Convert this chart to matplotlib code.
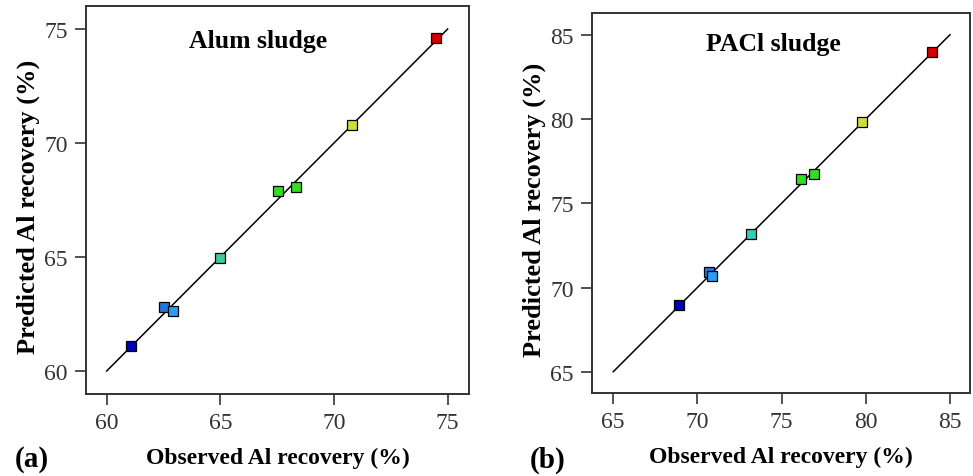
import matplotlib
matplotlib.use("Agg")
import matplotlib.pyplot as plt

# ---- data ----
alum_observed = [74.5, 70.8, 67.55, 68.35, 65.0, 62.52, 62.92, 61.05]
alum_predicted = [74.6, 70.77, 67.88, 68.06, 64.95, 62.82, 62.63, 61.1]
alum_colors = ["#d40000", "#cfdc3a", "#33dd22", "#33dd22", "#3cc8a0", "#2277e0", "#2f9af0", "#0000b8"]

pacl_observed = [83.95, 79.8, 76.15, 76.92, 73.18, 70.66, 70.86, 68.88]
pacl_predicted = [84.0, 79.8, 76.43, 76.73, 73.19, 70.93, 70.66, 68.94]
pacl_colors = ["#d40000", "#cfdc3a", "#33dd22", "#33dd22", "#30d0b8", "#2277e0", "#2f9af0", "#0000b8"]

alum_ticks = [60, 65, 70, 75]
pacl_ticks = [65, 70, 75, 80, 85]
alum_line = [60, 75]
pacl_line = [65, 85]

plt.rcParams['font.family'] = ['Liberation Serif', 'DejaVu Serif']

fig = plt.figure(figsize=(9.73, 4.77), dpi=100)
axL = fig.add_axes([86/973, 82/477, 383/973, 388/477])
axR = fig.add_axes([592/973, 83/477, 378/973, 380/477])

spine_col = "#333333"

def style(ax, ticks, xlim, ylim):
    ax.set_xlim(*xlim)
    ax.set_ylim(*ylim)
    ax.set_xticks(ticks)
    ax.set_yticks(ticks)
    ax.tick_params(direction='out', length=8, width=1.2, colors=spine_col,
                   labelsize=17, pad=5, top=False, right=False)
    for s in ax.spines.values():
        s.set_color(spine_col)
        s.set_linewidth(1.4)

def panel(ax, obs, pred, cols, line):
    ax.plot(line, line, color='black', lw=1.1, zorder=2)
    for x, y, c in zip(obs, pred, cols):
        ax.plot([x], [y], marker='s', ms=7.5, mfc=c, mec='black', mew=0.9,
                linestyle='none', zorder=3)

panel(axL, alum_observed, alum_predicted, alum_colors, alum_line)
panel(axR, pacl_observed, pacl_predicted, pacl_colors, pacl_line)

style(axL, alum_ticks, (59.09, 75.94), (58.99, 76.01))
style(axR, pacl_ticks, (63.74, 86.19), (63.74, 86.29))

axL.text(0.449, 0.91, "Alum sludge", transform=axL.transAxes, ha='center',
         va='center', fontsize=18.5, fontweight='bold')
axR.text(0.479, 0.921, "PACl sludge", transform=axR.transAxes, ha='center',
         va='center', fontsize=18.5, fontweight='bold')

for ax in (axL, axR):
    ax.set_xlabel("Observed Al recovery (%)", fontsize=17, fontweight='bold', labelpad=10)
    ax.set_ylabel("Predicted Al recovery (%)", fontsize=19, fontweight='bold', labelpad=3)
    ax.yaxis.label.set_y(0.485)

fig.text(15/973, 1 - 460/477, "(a)", fontsize=21, fontweight='bold', va='center', ha='left')
fig.text(530/973, 1 - 460/477, "(b)", fontsize=21, fontweight='bold', va='center', ha='left')

fig.savefig("out.png", dpi=100)
